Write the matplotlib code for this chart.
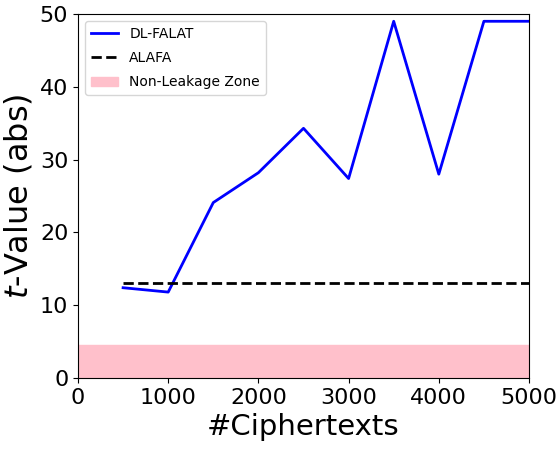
import matplotlib
matplotlib.use("Agg")
import matplotlib.pyplot as plt

ciphertexts = [500, 1000, 1500, 2000, 2500, 3000, 3500, 4000, 4500, 5000]
dl_falat = [12.4, 11.8, 24.1, 28.2, 34.3, 27.4, 49.0, 28.0, 49.0, 49.0]
alafa_x = [500, 5000]
alafa = [13.0, 13.0]
leak_threshold = 4.5

fig = plt.figure(figsize=(5.6, 4.51), dpi=100)
ax = fig.add_axes([78/560, 1-378/451, (529-78)/560, (378-14)/451])
ax.plot(ciphertexts, dl_falat, color='blue', lw=2, label='DL-FALAT')
ax.plot(alafa_x, alafa, color='black', ls='--', lw=2, label='ALAFA')
ax.axhspan(0, leak_threshold, color='pink', label='Non-Leakage Zone')
ax.set_xlim(0, 5000)
ax.set_ylim(0, 50)
ax.set_xticks([0, 1000, 2000, 3000, 4000, 5000])
ax.set_yticks([0, 10, 20, 30, 40, 50])
ax.tick_params(labelsize=16)
ax.set_xlabel('#Ciphertexts', fontsize=21)
ax.set_ylabel('$t$-Value (abs)', fontsize=23)
ax.legend(loc='upper left', fontsize=10, labelspacing=0.75)
fig.savefig('out.png', dpi=100)
